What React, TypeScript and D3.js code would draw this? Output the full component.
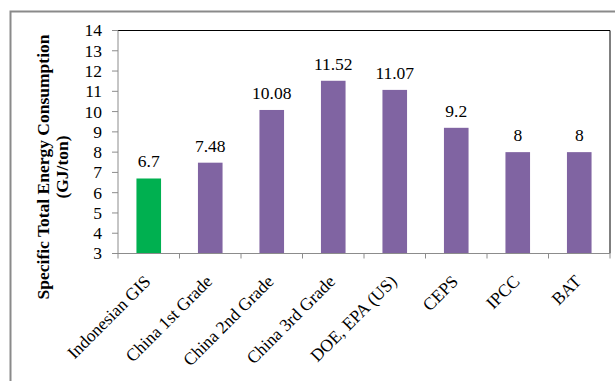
import React from "react";
import * as d3 from "d3";

// Specific total energy consumption by standard (GJ/ton)
const categories = [
  "Indonesian GIS",
  "China 1st Grade",
  "China 2nd Grade",
  "China 3rd Grade",
  "DOE, EPA (US)",
  "CEPS",
  "IPCC",
  "BAT",
];
const values = [6.7, 7.48, 10.08, 11.52, 11.07, 9.2, 8, 8];
const valueLabels = ["6.7", "7.48", "10.08", "11.52", "11.07", "9.2", "8", "8"];
const yTicks = [3, 4, 5, 6, 7, 8, 9, 10, 11, 12, 13, 14];
const yDomain = [3, 14];

const W = 615;
const H = 381;
const plot = { left: 118, top: 30.5, right: 610, bottom: 253.5 };
const FONT = "'Liberation Serif', 'Times New Roman', serif";
const FS = 17.5;
const GREEN = "#00B050";
const PURPLE = "#8064A2";
const AXIS_GRAY = "#8c8c8c";

export default function App() {
  const band = d3
    .scaleBand<string>()
    .domain(categories)
    .range([plot.left, plot.right]);
  const y = d3.scaleLinear().domain(yDomain).range([plot.bottom, plot.top]);
  const step = band.step();
  const boundaries = d3.range(categories.length + 1).map((i) => plot.left + i * step);
  const center = (c: string) => band(c)! + band.bandwidth() / 2;

  return (
    <div style={{ position: "fixed", left: 0, top: 0 }}>
      <svg width={W} height={H} style={{ display: "block", background: "#fff" }}>
        {/* outer chart frame */}
        <path d={`M10.5,${H + 2} V11.5 H${W + 2}`} fill="none" stroke="#8a8a8a" strokeWidth={2} />

        {/* plot area: dark top/right edges */}
        <path
          d={`M${plot.left},${plot.top} H${plot.right} V${plot.bottom}`}
          fill="none"
          stroke="#000"
          strokeWidth={1}
        />

        {/* bars */}
        {categories.map((c, i) => {
          const bw = step * 0.4;
          return (
            <rect
              key={c}
              x={center(c) - bw / 2}
              y={y(values[i])}
              width={bw}
              height={plot.bottom - y(values[i])}
              fill={i === 0 ? GREEN : PURPLE}
            />
          );
        })}

        {/* value labels */}
        {categories.map((c, i) => (
          <text
            key={c}
            x={center(c)}
            y={y(values[i]) - 11}
            textAnchor="middle"
            fontFamily={FONT}
            fontSize={FS}
            fill="#000"
          >
            {valueLabels[i]}
          </text>
        ))}

        {/* y axis */}
        <line x1={plot.left} x2={plot.left} y1={plot.top} y2={plot.bottom} stroke={AXIS_GRAY} />
        {yTicks.map((t) => (
          <g key={t}>
            <line x1={plot.left - 6} x2={plot.left} y1={y(t)} y2={y(t)} stroke={AXIS_GRAY} />
            <text
              x={102}
              y={y(t)}
              dy="0.34em"
              textAnchor="end"
              fontFamily={FONT}
              fontSize={FS}
              fill="#000"
            >
              {t}
            </text>
          </g>
        ))}

        {/* x axis */}
        <line x1={plot.left} x2={plot.right} y1={plot.bottom} y2={plot.bottom} stroke={AXIS_GRAY} />
        {boundaries.map((bx, i) => (
          <line key={i} x1={bx} x2={bx} y1={plot.bottom} y2={plot.bottom + 5} stroke={AXIS_GRAY} />
        ))}
        {categories.map((c) => (
          <text
            key={c}
            transform={`translate(${center(c) + 3},${plot.bottom + 29}) rotate(-45)`}
            textAnchor="end"
            fontFamily={FONT}
            fontSize={FS}
            fill="#000"
          >
            {c}
          </text>
        ))}

        {/* y axis title */}
        <g
          transform="translate(0,167) rotate(-90)"
          fontFamily={FONT}
          fontSize={FS}
          fontWeight="bold"
          textAnchor="middle"
        >
          <text x={0} y={49}>Specific Total Energy Consumption</text>
          <text x={0} y={68}>(GJ/ton)</text>
        </g>
      </svg>
    </div>
  );
}
